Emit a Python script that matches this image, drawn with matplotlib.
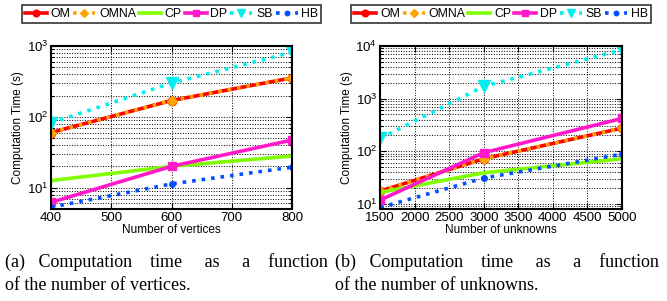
import matplotlib
matplotlib.use("Agg")
import matplotlib.pyplot as plt
from matplotlib.ticker import LogLocator, NullFormatter, FixedLocator

plt.rcParams['font.family'] = ['Liberation Sans', 'DejaVu Sans']

methods = ['OM', 'OMNA', 'CP', 'DP', 'SB', 'HB']

# (a) vs number of vertices
vertices = [400, 600, 800]
time_vertices = {
    'OM':   [60, 170, 355],
    'OMNA': [60, 170, 355],
    'CP':   [12.6, 20, 28],
    'DP':   [6.2, 20, 47],
    'SB':   [82, 300, 815],
    'HB':   [5.3, 11.3, 19.5],
}

# (b) vs number of unknowns
unknowns = [1500, 3000, 5000]
time_unknowns = {
    'OM':   [17.5, 72, 275],
    'OMNA': [17.5, 72, 275],
    'CP':   [16.5, 39, 72],
    'DP':   [11.8, 94, 420],
    'SB':   [175, 1710, 8500],
    'HB':   [8.5, 31, 88],
}

styles = {
    'OM':   dict(color='#ff0000', ls='-',  marker='o', ms=6),
    'OMNA': dict(color='#ffa500', ls=':',  marker='D', ms=5),
    'CP':   dict(color='#80ff00', ls='-',  marker='.', ms=3),
    'DP':   dict(color='#ff19c8', ls='-',  marker='s', ms=6),
    'SB':   dict(color='#00f0f0', ls=':',  marker='v', ms=8),
    'HB':   dict(color='#0050ff', ls=':',  marker='o', ms=4),
}

fig = plt.figure(figsize=(6.67, 3.01), dpi=100)
ax1 = fig.add_axes([51/667, 1 - 209/301, 241/667, 163/301])
ax2 = fig.add_axes([380/667, 1 - 209/301, 242/667, 163/301])


def draw(ax, xs, data, xlim, ylim, xticks, xlabel):
    for m in methods:
        st = styles[m]
        ax.plot(xs, data[m], color=st['color'], ls=st['ls'], lw=2.6,
                marker=st['marker'], ms=st['ms'], mec=st['color'],
                mfc=st['color'], label=m)
    ax.set_yscale('log')
    ax.set_xlim(*xlim)
    ax.set_ylim(*ylim)
    ax.xaxis.set_major_locator(FixedLocator(xticks))
    ax.yaxis.set_major_locator(LogLocator(base=10, numticks=10))
    ax.yaxis.set_minor_locator(LogLocator(base=10, subs=range(2, 10), numticks=20))
    ax.yaxis.set_minor_formatter(NullFormatter())
    ax.grid(True, which='major', ls=':', color='black', lw=0.7)
    ax.grid(True, which='minor', axis='y', ls=':', color='black', lw=0.7)
    ax.tick_params(which='both', direction='in', top=True, right=True,
                   labelsize=9.5, width=0.8, pad=2)
    ax.tick_params(which='major', length=4)
    ax.tick_params(which='minor', length=2)
    for s in ax.spines.values():
        s.set_linewidth(1.5)
    ax.set_xlabel(xlabel, fontsize=8.5, labelpad=0)
    ax.set_ylabel('Computation Time (s)', fontsize=8.5, labelpad=2)
    leg = ax.legend(loc='lower center', bbox_to_anchor=(0.5, 1.14), ncol=6,
                    fontsize=8.8, frameon=True, fancybox=False,
                    edgecolor='black', handlelength=1.8, handletextpad=0.3,
                    columnspacing=0.25, borderpad=0.25, borderaxespad=0,
                    markerscale=0.8)
    leg.get_frame().set_linewidth(1.2)


draw(ax1, vertices, time_vertices, (400, 800), (5, 1000),
     [400, 500, 600, 700, 800], 'Number of vertices')
draw(ax2, unknowns, time_unknowns, (1500, 5000), (8, 10000),
     list(range(1500, 5001, 500)), 'Number of unknowns')

cap = dict(fontsize=13, family=['Liberation Serif', 'DejaVu Serif'],
           va='baseline', ha='left')
line1a = '(a)   Computation    time     as     a    function'
line1b = '(b)   Computation    time     as     a    function'
fig.text(5/667, 1 - 267/301, line1a, **cap)
fig.text(5/667, 1 - 290/301, 'of the number of vertices.', **cap)
fig.text(335/667, 1 - 267/301, line1b, **cap)
fig.text(335/667, 1 - 290/301, 'of the number of unknowns.', **cap)

fig.savefig('out.png', dpi=100)
